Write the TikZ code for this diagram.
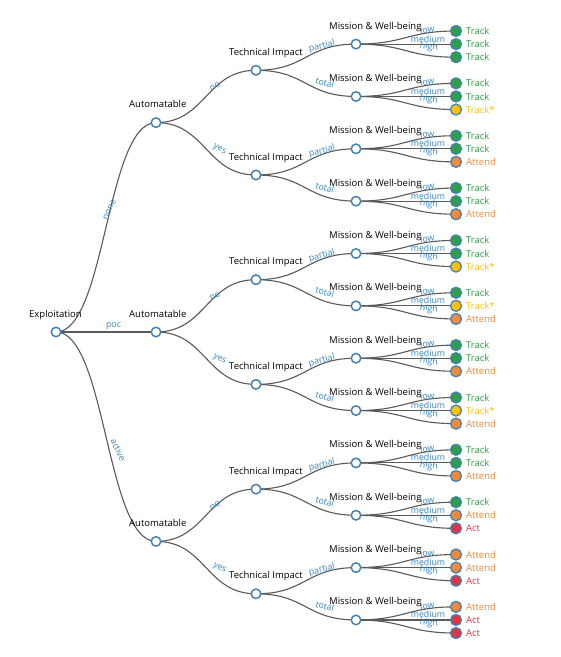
\documentclass[tikz,border=0pt]{standalone}
\usepackage{fontspec}
\setmainfont{Open Sans}
\definecolor{edgec}{HTML}{5A5A5A}
\definecolor{nodec}{HTML}{4682B4}
\definecolor{lblc}{HTML}{3087C2}
\definecolor{trackc}{HTML}{2E9E48}
\definecolor{attendc}{HTML}{EF8A3A}
\definecolor{starc}{HTML}{FFC107}
\definecolor{actc}{HTML}{DC3545}
\tikzset{
  inner/.style={circle, draw=nodec, fill=white, line width=1.5pt, minimum size=9.5pt, inner sep=0pt},
  leaf/.style={circle, draw=nodec, line width=1.3pt, minimum size=11pt, inner sep=0pt},
  link/.style={draw=edgec, line width=1.1pt},
  elabel/.style={text=lblc, font=\fontsize{8.8}{8.8}\selectfont, inner sep=1.8pt, sloped, above},
  nlabel/.style={anchor=base west, font=\fontsize{9.5}{9.5}\selectfont, inner sep=0pt},
  olabel/.style={anchor=west, font=\fontsize{9.5}{9.5}\selectfont, inner sep=0pt}
}
\begin{document}
\begin{tikzpicture}[x=1pt,y=-1pt]
\fill[white] (0,0) rectangle (561,657);
\useasboundingbox (0,0) rectangle (561,657);
% node positions
\coordinate (rc) at (56,332);
\foreach \i in {1,2,3} \coordinate (ac\i) at (156,{332+(\i-2)*209.4});
\foreach \t in {1,...,6} \coordinate (tc\t) at (256,{70.3+(\t-1)*104.7});
\foreach \m in {1,...,12} \coordinate (mc\m) at (356,{44.1+(\m-1)*52.35});
% edges root -> automatable
\foreach \i/\lab in {1/none,2/poc,3/active}{
  \draw[link] (rc) .. controls +(50,0) and +(-50,0) .. (ac\i);
  \path (rc) -- (ac\i) node[elabel, pos=0.575] (ea\i) {\lab};
}
% edges automatable -> technical impact
\foreach \i in {1,2,3}{
  \foreach \j/\lab in {1/no,2/yes}{
    \pgfmathtruncatemacro\t{2*(\i-1)+\j}
    \draw[link] (ac\i) .. controls +(50,0) and +(-50,0) .. (tc\t);
    \path (ac\i) -- (tc\t) node[elabel, pos=0.61] (et\t) {\lab};
  }
}
% edges technical impact -> mission
\foreach \t in {1,...,6}{
  \foreach \k/\lab in {1/partial,2/total}{
    \pgfmathtruncatemacro\m{2*(\t-1)+\k}
    \draw[link] (tc\t) .. controls +(50,0) and +(-50,0) .. (mc\m);
    \path (tc\t) -- (mc\m) node[elabel, pos=0.675] (em\m) {\lab};
  }
}
% leaves
\foreach \m/\l/\c/\w in {
 1/1/trackc/Track, 1/2/trackc/Track, 1/3/trackc/Track,
 2/1/trackc/Track, 2/2/trackc/Track, 2/3/starc/Track*,
 3/1/trackc/Track, 3/2/trackc/Track, 3/3/attendc/Attend,
 4/1/trackc/Track, 4/2/trackc/Track, 4/3/attendc/Attend,
 5/1/trackc/Track, 5/2/trackc/Track, 5/3/starc/Track*,
 6/1/trackc/Track, 6/2/starc/Track*, 6/3/attendc/Attend,
 7/1/trackc/Track, 7/2/trackc/Track, 7/3/attendc/Attend,
 8/1/trackc/Track, 8/2/starc/Track*, 8/3/attendc/Attend,
 9/1/trackc/Track, 9/2/trackc/Track, 9/3/attendc/Attend,
 10/1/trackc/Track, 10/2/attendc/Attend, 10/3/actc/Act,
 11/1/attendc/Attend, 11/2/attendc/Attend, 11/3/actc/Act,
 12/1/attendc/Attend, 12/2/actc/Act, 12/3/actc/Act}{
  \coordinate (fc\m-\l) at (456,{44.1+(\m-1)*52.35+(\l-2)*13.09});
  \draw[link] (mc\m) .. controls +(50,0) and +(-50,0) .. (fc\m-\l);
  \ifcase\l\or\def\lab{low}\or\def\lab{medium}\or\def\lab{high}\fi
  \path (mc\m) -- (fc\m-\l) node[elabel, pos=0.72] (ef\m-\l) {\lab};
  \node[leaf, fill=\c] (f\m-\l) at (fc\m-\l) {};
  \node[olabel, text=\c] (of\m-\l) at ([xshift=10]fc\m-\l) {\w};
}
% inner nodes and labels
\node[inner] (r) at (rc) {};
\path (rc) ++(-27,-15) node[nlabel] (lr) {Exploitation};
\foreach \i in {1,2,3}{
  \node[inner] (a\i) at (ac\i) {};
  \path (ac\i) ++(-27,-15) node[nlabel] (la\i) {Automatable};
}
\foreach \t in {1,...,6}{
  \node[inner] (t\t) at (tc\t) {};
  \path (tc\t) ++(-27,-15) node[nlabel] (lt\t) {Technical Impact};
}
\foreach \m in {1,...,12}{
  \node[inner] (m\m) at (mc\m) {};
  \path (mc\m) ++(-27,-15) node[nlabel] (lm\m) {Mission \& Well-being};
}
\end{tikzpicture}
\end{document}
